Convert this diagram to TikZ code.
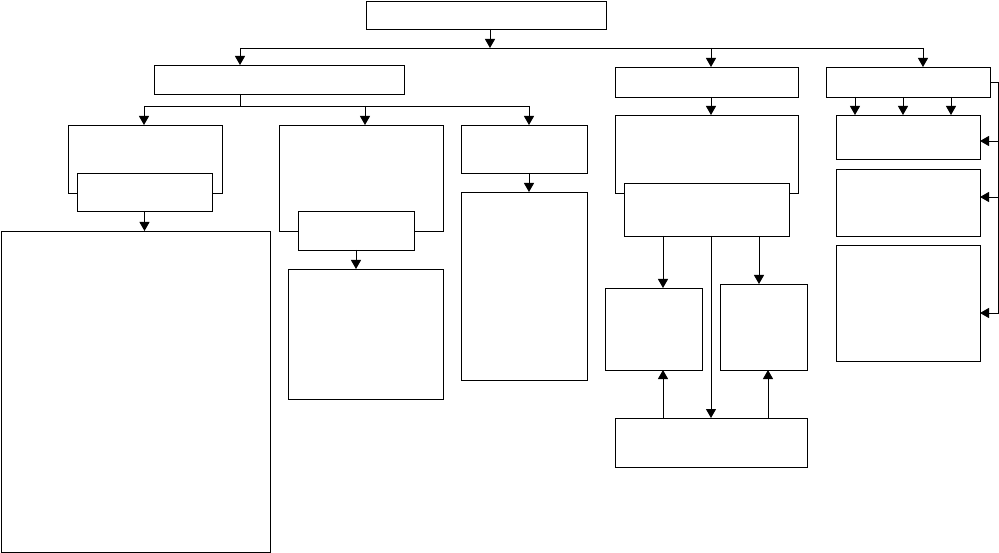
\documentclass[tikz,border=0pt]{standalone}
\usepackage{amsmath, amsfonts}
\usepackage{tikz}
\usetikzlibrary{arrows.meta}

\tikzset{
    box/.style={draw, fill=white, inner sep=0pt, outer sep=0pt, line width=0.9pt},
}

\begin{document}
\begin{tikzpicture}[>={Triangle[length=9pt,width=10pt]},x=1pt,y=-1pt,line width=0.9pt]
        \useasboundingbox (0,0) rectangle (999,553);
        % boxes: name/left/top/right/bottom (outer frames before the inner ones)
        \foreach \n/\xa/\ya/\xb/\yb in {top/366/1/606/29, L1/154/65/404/94,
            A/68/125/222/193, A2/77/173/212/211, A3/1/231/270/552,
            B/279/125/443/231, B2/298/211/414/250, B3/288/269/443/399,
            C/461/125/587/173, C3/461/192/587/380,
            D/615/67/798/97, D2/615/115/798/193, D3/624/183/789/236,
            E/605/288/702/370, F/720/284/807/370, G/615/418/807/467,
            H/826/67/990/97, H1/836/115/980/159, H2/836/169/980/236, H3/836/245/980/361}
        {
            \node[box, minimum width={(\xb-\xa)*1pt}, minimum height={(\yb-\ya)*1pt}] (\n) at ({(\xa+\xb)/2},{(\ya+\yb)/2}) {};
        }

        % first level
        \coordinate (j0) at (490,48);
        \coordinate (j1) at (240,48);
        \coordinate (j2) at (711,48);
        \coordinate (j3) at (923,48);
        \draw[->] (j0 |- top.south) -- (j0);
        \draw (j1) -- (j3);
        \draw[->] (j1) -- (j1 |- L1.north);
        \draw[->] (j2) -- (j2 |- D.north);
        \draw[->] (j3) -- (j3 |- H.north);

        % left branch
        \coordinate (k0) at (144,106);
        \coordinate (k1) at (365,106);
        \coordinate (k2) at (529,106);
        \draw (j1 |- L1.south) -- (j1 |- k0);
        \draw (k0) -- (k2);
        \draw[->] (k0) -- (k0 |- A.north);
        \draw[->] (k1) -- (k1 |- B.north);
        \draw[->] (k2) -- (k2 |- C.north);
        \draw[->] (A2.south) -- (A2.south |- A3.north);
        \draw[->] (B2.south) -- (B2.south |- B3.north);
        \draw[->] (k2 |- C.south) -- (k2 |- C3.north);

        % middle branch
        \coordinate (u1) at (663,0);
        \coordinate (u2) at (759,0);
        \coordinate (u3) at (768,0);
        \draw[->] (j2 |- D.south) -- (j2 |- D2.north);
        \draw[->] (u1 |- D3.south) -- (u1 |- E.north);
        \draw[->] (u2 |- D3.south) -- (u2 |- F.north);
        \draw[->] (j2 |- D3.south) -- (j2 |- G.north);
        \draw[->] (u1 |- G.north) -- (u1 |- E.south);
        \draw[->] (u3 |- G.north) -- (u3 |- F.south);

        % right branch
        \foreach \dx in {-53,-5,43}
        {
            \draw[->] ([xshift=\dx pt]H.south) -- ([xshift=\dx pt]H.south |- H1.north);
        }
        \coordinate (r1) at (998,141);
        \coordinate (r2) at (998,197);
        \coordinate (r3) at (998,313);
        \draw[->] (H.east) -| (r3) -- (r3 -| H3.east);
        \draw[->] (r1) -- (r1 -| H1.east);
        \draw[->] (r2) -- (r2 -| H2.east);

    \end{tikzpicture}
\end{document}
